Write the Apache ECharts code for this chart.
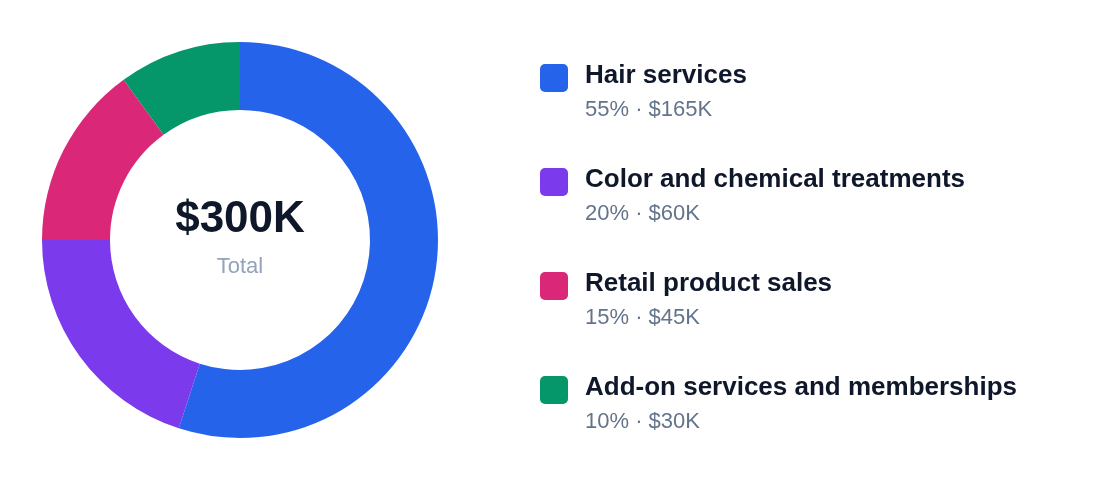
<!DOCTYPE html>
<html>
<head>
<meta charset="utf-8">
<script src="https://cdn.jsdelivr.net/npm/echarts@6/dist/echarts.min.js"></script>
<style>
  html, body { margin: 0; padding: 0; background: #ffffff; }
  #chart { width: 1120px; height: 488px; }
</style>
</head>
<body>
<div id="chart"></div>
<script>
var categories = ['Hair services', 'Color and chemical treatments', 'Retail product sales', 'Add-on services and memberships'];
var values = [165, 60, 45, 30]; // $K
var colors = ['#2563eb', '#7c3aed', '#db2777', '#059669'];

var FONT = 'Liberation Sans';
var total = values.reduce(function (a, b) { return a + b; }, 0);

var chartDom = document.getElementById('chart');
var myChart = echarts.init(chartDom);

var pieData = categories.map(function (name, i) {
  return { name: name, value: values[i], itemStyle: { color: colors[i] } };
});

var option = {
  animation: false,
  backgroundColor: '#ffffff',
  legend: {
    orient: 'vertical',
    left: 540,
    top: 39,
    padding: 0,
    itemWidth: 28,
    itemHeight: 28,
    itemGap: 22,
    icon: 'path://M5,0 H23 A5,5 0 0 1 28,5 V23 A5,5 0 0 1 23,28 H5 A5,5 0 0 1 0,23 V5 A5,5 0 0 1 5,0 Z',
    selectedMode: false,
    data: categories,
    textStyle: {
      fontFamily: FONT,
      padding: [0, 0, 0, 12],
      rich: {
        e: { fontSize: 10, lineHeight: 30 },
        t: { fontFamily: FONT, fontSize: 26, fontWeight: 'bold', color: '#0f172a', lineHeight: 34 },
        s: { fontFamily: FONT, fontSize: 22, color: '#64748b', lineHeight: 34 }
      }
    },
    formatter: function (name) {
      var i = categories.indexOf(name);
      var pct = Math.round(values[i] / total * 100);
      return '{e| }\n{t|' + name + '}\n{s|' + pct + '% \u00b7 $' + values[i] + 'K}';
    }
  },
  graphic: [
    {
      type: 'text',
      style: {
        text: '$' + total + 'K',
        x: 240,
        y: 220,
        align: 'center',
        verticalAlign: 'middle',
        fontFamily: FONT,
        fontSize: 44,
        fontWeight: 'bold',
        fill: '#0f172a'
      }
    },
    {
      type: 'text',
      style: {
        text: 'Total',
        x: 240,
        y: 267,
        align: 'center',
        verticalAlign: 'middle',
        fontFamily: FONT,
        fontSize: 22,
        fill: '#94a3b8'
      }
    }
  ],
  series: [
    {
      type: 'pie',
      center: [240, 240],
      radius: [130, 198],
      startAngle: 90,
      clockwise: true,
      silent: true,
      label: { show: false },
      labelLine: { show: false },
      itemStyle: { borderWidth: 0 },
      data: pieData
    }
  ]
};

option && myChart.setOption(option);
</script>
</body>
</html>
